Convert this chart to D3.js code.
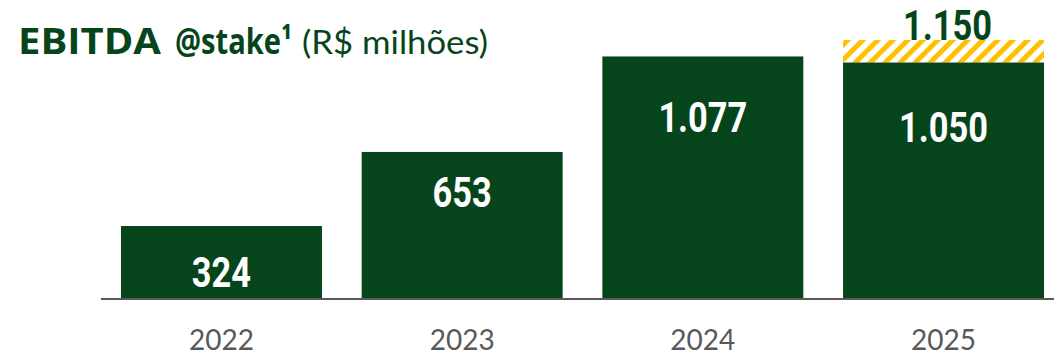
<!DOCTYPE html>
<html>
<head>
<meta charset="utf-8">
<script src="https://cdn.jsdelivr.net/npm/d3@7"></script>
<style>
  html, body { margin: 0; padding: 0; background: #ffffff; }
  svg { display: block; }
</style>
</head>
<body>
<svg id="chart" width="1054" height="355"></svg>
<script>
// EBITDA @stake, R$ milhões
const years = ["2022", "2023", "2024", "2025"];
const ebitda = [324, 653, 1077, 1050];
const ebitdaLabels = ["324", "653", "1.077", "1.050"];
// 2025 upper range shown as a hatched extension on top of the base bar
const guidanceYear = "2025";
const guidanceValue = 1150;
const guidanceLabel = "1.150";

// layout
const W = 1054, H = 355;
const baseY = 299;
const green = "#06451B";
const gold = "#FFC000";
const grey = "#595959";
// vertical drop of each in-bar label baseline below its bar top
const labelDrop = [61, 55, 76, 79];

const svg = d3.select("#chart");

const x = d3.scaleBand()
  .domain(years)
  .range([101, 1064])
  .paddingInner(0.165)
  .paddingOuter(0.083);

const y = d3.scaleLinear()
  .domain([0, guidanceValue])
  .range([baseY, baseY - guidanceValue * 0.2252]);

// hatch pattern for the upper range
const defs = svg.append("defs");
const pat = defs.append("pattern")
  .attr("id", "hatch")
  .attr("patternUnits", "userSpaceOnUse")
  .attr("width", 10.6)
  .attr("height", 10.6)
  .attr("patternTransform", "rotate(45)");
pat.append("rect").attr("width", 10.6).attr("height", 10.6).attr("fill", "#ffffff");
pat.append("rect").attr("x", 0).attr("width", 5).attr("height", 10.6).attr("fill", gold);

// hatched range bar (from the base value up to the upper value)
const gi = years.indexOf(guidanceYear);
svg.append("rect")
  .attr("x", x(guidanceYear))
  .attr("width", x.bandwidth())
  .attr("y", y(guidanceValue))
  .attr("height", y(ebitda[gi]) - y(guidanceValue))
  .attr("fill", "url(#hatch)");

// main bars
svg.append("g")
  .selectAll("rect")
  .data(years)
  .join("rect")
  .attr("x", d => x(d))
  .attr("width", x.bandwidth())
  .attr("y", (d, i) => y(ebitda[i]))
  .attr("height", (d, i) => baseY - y(ebitda[i]))
  .attr("fill", green);

// baseline axis with year labels
const axis = d3.axisBottom(x).tickSize(0).tickPadding(0);
const gAxis = svg.append("g")
  .attr("transform", `translate(0,${baseY})`)
  .call(axis);
gAxis.select(".domain").remove();
gAxis.selectAll("text")
  .attr("y", 51)
  .attr("dy", null)
  .attr("fill", grey)
  .style("font-family", "Lato, 'Open Sans', sans-serif")
  .style("font-size", "28px");
svg.append("line")
  .attr("x1", 101).attr("x2", W)
  .attr("y1", baseY).attr("y2", baseY)
  .attr("stroke", grey)
  .attr("stroke-width", 2);

// value labels inside the bars (condensed bold)
const valueFont = "Roboto, 'Liberation Sans', sans-serif";
svg.append("g")
  .selectAll("text")
  .data(years)
  .join("text")
  .attr("transform", (d, i) =>
    `translate(${x(d) + x.bandwidth() / 2},${y(ebitda[i]) + labelDrop[i]}) scale(0.8,1)`)
  .attr("text-anchor", "middle")
  .attr("fill", "#ffffff")
  .style("font-family", valueFont)
  .style("font-weight", 700)
  .style("font-size", "43px")
  .text((d, i) => ebitdaLabels[i]);

// upper range label above the hatched bar
svg.append("text")
  .attr("transform",
    `translate(${x(guidanceYear) + x.bandwidth() / 2 + 4},${y(guidanceValue) - 0.5}) scale(0.8,1)`)
  .attr("text-anchor", "middle")
  .attr("fill", green)
  .style("font-family", valueFont)
  .style("font-weight", 700)
  .style("font-size", "43px")
  .text(guidanceLabel);

// title, set piece by piece; each piece is scaled horizontally to its width
const titleParts = [
  { text: "EBITDA", x: 18, w: 143, size: 35, weight: 700, font: "'Open Sans', Lato, sans-serif" },
  { text: "@stake¹", x: 175, w: 117, size: 35, weight: 700, font: "'Open Sans', Lato, sans-serif" },
  { text: "(R$ milhões)", x: 302, w: 186, size: 33, weight: 400, font: "Lato, 'Open Sans', sans-serif" }
];
svg.append("g")
  .selectAll("text")
  .data(titleParts)
  .join("text")
  .attr("fill", green)
  .style("font-family", d => d.font)
  .style("font-size", d => d.size + "px")
  .style("font-weight", d => d.weight)
  .text(d => d.text)
  .each(function (d) {
    const natural = this.getComputedTextLength() || d.w;
    d3.select(this).attr("transform", `translate(${d.x},53.5) scale(${d.w / natural},1)`);
  });
</script>
</body>
</html>
